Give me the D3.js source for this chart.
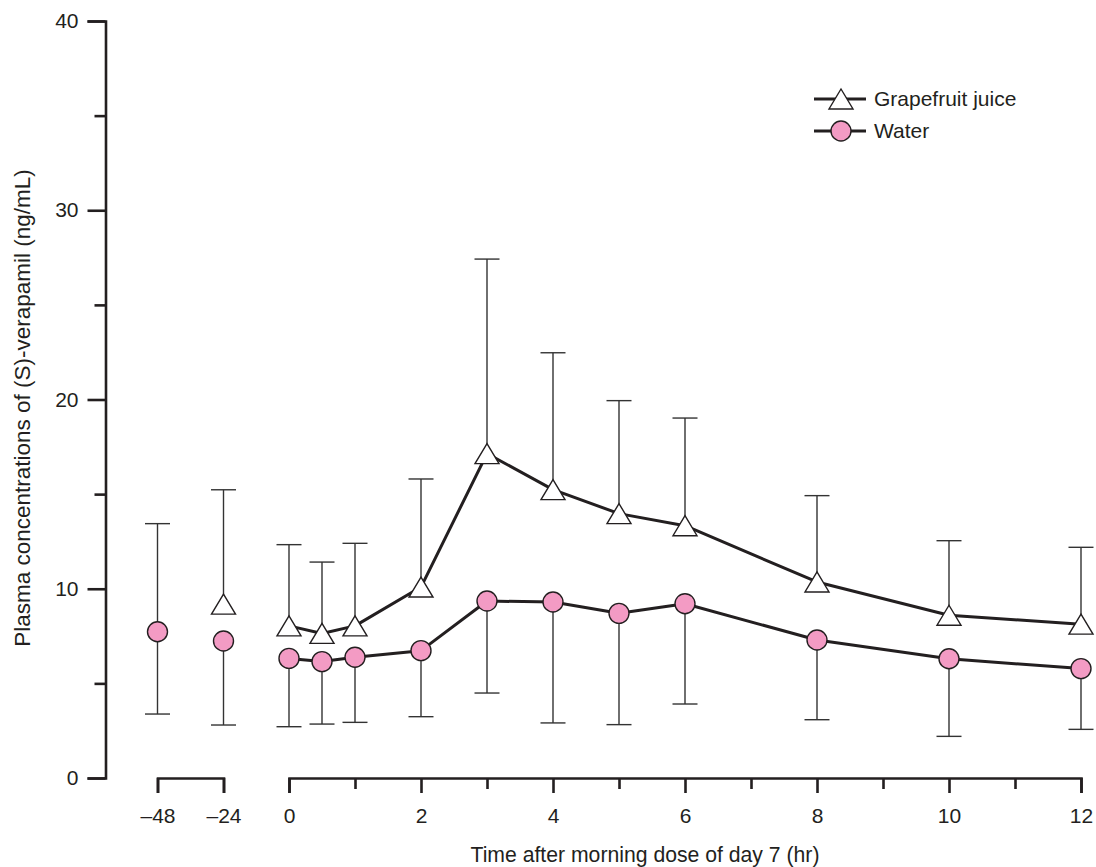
<!DOCTYPE html>
<html>
<head>
<meta charset="utf-8">
<script src="https://cdn.jsdelivr.net/npm/d3@7"></script>
<style>
  html, body { margin: 0; padding: 0; background: #fff; }
  svg { display: block; }
  text { font-family: "Liberation Sans", Arial, Helvetica, sans-serif; fill: #231f20; }
</style>
</head>
<body>
<script>
// ---------------- data ----------------
const preTimes   = [-48, -24];                       // hours before day-7 dose
const mainTicksMajor = [0, 2, 4, 6, 8, 10, 12];
const mainTicksMinor = [1, 3, 5, 7, 9, 11];
const preTickLabels  = ["\u201348", "\u201324"];
const yTicksMajor = [0, 10, 20, 30, 40];
const yTicksMinor = [5, 15, 25, 35];

const juiceTimes = [-24, 0, 0.5, 1, 2, 3, 4, 5, 6, 8, 10, 12];
const juiceMean  = [9.19, 8.04, 7.64, 8.04, 10.09, 17.14, 15.24, 13.97, 13.33, 10.36, 8.60, 8.13];
const juiceUpper = [15.23, 12.33, 11.41, 12.40, 15.80, 27.42, 22.47, 19.94, 19.02, 14.92, 12.54, 12.19];

const waterTimes = [-48, -24, 0, 0.5, 1, 2, 3, 4, 5, 6, 8, 10, 12];
const waterMean  = [7.73, 7.24, 6.32, 6.15, 6.38, 6.73, 9.35, 9.30, 8.70, 9.21, 7.29, 6.30, 5.78];
const waterLower = [3.38, 2.80, 2.71, 2.85, 2.94, 3.24, 4.49, 2.91, 2.82, 3.91, 3.08, 2.20, 2.57];
const waterUpper = [13.44, null, null, null, null, null, null, null, null, null, null, null, null];

const seriesNames = ["Grapefruit juice", "Water"];
const xTitle = "Time after morning dose of day 7 (hr)";
const yTitle = "Plasma concentrations of (S)-verapamil (ng/mL)";

// ---------------- setup ----------------
const W = 1096, H = 867;
const ink = "#231f20";
const pink = "#f39bc4";

const svg = d3.select("body").append("svg").attr("width", W).attr("height", H);

const y = d3.scaleLinear().domain([0, 40]).range([778, 21]);
const xMain = d3.scaleLinear().domain([0, 12]).range([289, 1081]);
const xPre = d3.scaleLinear().domain([-48, -24]).range([157.5, 223.5]);
const xPos = t => t < 0 ? xPre(t) : xMain(t);

// ---------------- axes ----------------
function styleAxis(g, sw) {
  g.selectAll("path.domain").attr("stroke", ink).attr("stroke-width", sw).attr("fill", "none");
  g.selectAll(".tick line").attr("stroke", ink).attr("stroke-width", sw);
  g.selectAll(".tick text").attr("font-size", 21).attr("fill", ink)
    .attr("font-family", '"Liberation Sans", Arial, Helvetica, sans-serif');
}

const yAxisX = 105.5;
const gy = svg.append("g").attr("transform", `translate(${yAxisX},0)`)
  .call(d3.axisLeft(y).tickValues(yTicksMajor).tickSizeInner(18).tickSizeOuter(18).tickPadding(9));
styleAxis(gy, 2.6);
const gyMinor = svg.append("g").attr("transform", `translate(${yAxisX},0)`)
  .call(d3.axisLeft(y).tickValues(yTicksMinor).tickSize(11).tickFormat(""));
gyMinor.select("path.domain").remove();
styleAxis(gyMinor, 2.6);

const xAxisY = 778;
const gxPre = svg.append("g").attr("transform", `translate(0,${xAxisY})`)
  .call(d3.axisBottom(xPre).tickValues(preTimes).tickSizeInner(15).tickSizeOuter(15).tickPadding(15)
    .tickFormat((d, i) => preTickLabels[i]));
styleAxis(gxPre, 2.6);

const gxMain = svg.append("g").attr("transform", `translate(0,${xAxisY})`)
  .call(d3.axisBottom(xMain).tickValues(mainTicksMajor).tickSizeInner(15).tickSizeOuter(15).tickPadding(15));
styleAxis(gxMain, 2.6);
const gxMinor = svg.append("g").attr("transform", `translate(0,${xAxisY})`)
  .call(d3.axisBottom(xMain).tickValues(mainTicksMinor).tickSize(11).tickFormat(""));
gxMinor.select("path.domain").remove();
styleAxis(gxMinor, 2.6);

// axis titles
svg.append("text").attr("x", 470.5).attr("y", 861.5).attr("font-size", 21.2).text(xTitle);
svg.append("text").attr("transform", "translate(29.5,408) rotate(-90)")
  .attr("text-anchor", "middle").attr("font-size", 22.5).text(yTitle);

// ---------------- data records ----------------
const juice = juiceTimes.map((t, i) => ({ t, m: juiceMean[i], hi: juiceUpper[i] }));
const water = waterTimes.map((t, i) => ({ t, m: waterMean[i], lo: waterLower[i], hi: waterUpper[i] }));

const capHalf = 12.5;
const eb = svg.append("g").attr("stroke", "#333").attr("stroke-width", 1.4).attr("fill", "none");

function errorBar(sel, data, key) {
  const f = data.filter(d => d[key] != null);
  sel.selectAll(null).data(f).enter().append("line")
    .attr("x1", d => xPos(d.t)).attr("x2", d => xPos(d.t))
    .attr("y1", d => y(d.m)).attr("y2", d => y(d[key]));
  sel.selectAll(null).data(f).enter().append("line")
    .attr("x1", d => xPos(d.t) - capHalf).attr("x2", d => xPos(d.t) + capHalf)
    .attr("y1", d => y(d[key])).attr("y2", d => y(d[key]));
}
errorBar(eb, juice, "hi");
errorBar(eb, water, "lo");
errorBar(eb, water, "hi");

// ---------------- lines ----------------
const line = d3.line().x(d => xPos(d.t)).y(d => y(d.m));
svg.append("path").datum(juice.filter(d => d.t >= 0)).attr("d", line)
  .attr("fill", "none").attr("stroke", ink).attr("stroke-width", 3).attr("stroke-linejoin", "round");
svg.append("path").datum(water.filter(d => d.t >= 0)).attr("d", line)
  .attr("fill", "none").attr("stroke", ink).attr("stroke-width", 3).attr("stroke-linejoin", "round");

// ---------------- markers ----------------
const triPath = (cx, cy) => `M${cx - 12},${cy + 10}L${cx + 12},${cy + 10}L${cx},${cy - 10}Z`;

svg.append("g").selectAll("path").data(juice).enter().append("path")
  .attr("d", d => triPath(xPos(d.t), y(d.m)))
  .attr("fill", "#fff").attr("stroke", ink).attr("stroke-width", 1.4);

svg.append("g").selectAll("circle").data(water).enter().append("circle")
  .attr("cx", d => xPos(d.t)).attr("cy", d => y(d.m)).attr("r", 10)
  .attr("fill", pink).attr("stroke", ink).attr("stroke-width", 1.4);

// ---------------- legend ----------------
const legendY = [99, 131];
const lg = svg.append("g");
lg.selectAll("line").data(seriesNames).enter().append("line")
  .attr("x1", 814).attr("x2", 866)
  .attr("y1", (d, i) => legendY[i]).attr("y2", (d, i) => legendY[i])
  .attr("stroke", ink).attr("stroke-width", 3);
lg.append("path").attr("d", triPath(841, legendY[0]))
  .attr("fill", "#fff").attr("stroke", ink).attr("stroke-width", 1.4);
lg.append("circle").attr("cx", 841).attr("cy", legendY[1]).attr("r", 10)
  .attr("fill", pink).attr("stroke", ink).attr("stroke-width", 1.4);
lg.selectAll("text").data(seriesNames).enter().append("text")
  .attr("x", 874).attr("y", (d, i) => legendY[i] + 7)
  .attr("font-size", 21).text(d => d);
</script>
</body>
</html>
